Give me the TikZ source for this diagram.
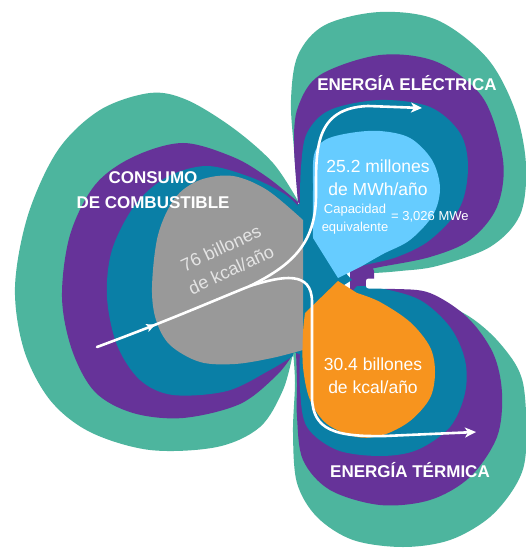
\documentclass[tikz,border=0pt]{standalone}
\usepackage{fontspec}
\setmainfont{Liberation Sans}
\usetikzlibrary{arrows.meta,decorations.markings}
\definecolor{cteal}{HTML}{4DB59E}
\definecolor{cpurple}{HTML}{663399}
\definecolor{cblue}{HTML}{0A7FA6}
\definecolor{cgrey}{HTML}{999999}
\definecolor{clight}{HTML}{66CCFF}
\definecolor{corange}{HTML}{F7941E}
\definecolor{cgtext}{HTML}{E4E4E4}
\tikzset{
  flow/.style={draw=white,line width=2.6pt,line cap=round},
  title/.style={text=white,font=\fontsize{17}{25}\selectfont\bfseries,align=center,inner sep=0pt},
  big/.style={text=white,font=\fontsize{17.5}{23}\selectfont,align=center,inner sep=0pt},
  small/.style={text=white,font=\fontsize{13}{18}\selectfont,align=center,inner sep=0pt},
  flowtip/.tip={Stealth[length=11pt,width=10pt,inset=3pt]}
}
\begin{document}
\begin{tikzpicture}[x=1pt,y=-1pt]
\useasboundingbox (0,0) rectangle (526,548);
\fill[white] (0,0) rectangle (526,548);
% ---------- teal layer
\fill[cteal] plot[smooth,tension=0.55] coordinates {(298,201) (273,163) (233,128) (187,100) (150,93) (100,110) (58,150) (28,215) (15,287) (24,350) (50,400) (90,432) (150,450) (217,447) (260,427) (283,390) (293,353)} -- (305,280) -- cycle;
\fill[cteal] plot[smooth,tension=0.55] coordinates {(298,200) (294,150) (291,100) (298,55) (325,25) (380,12) (437,20) (487,58) (515,110) (526,165) (520,215) (490,247) (437,266) (400,271) (372,273) (352,272)} -- cycle;
\fill[cteal] plot[smooth,tension=0.55] coordinates {(293,352) (295,383) (293,433) (297,483) (317,517) (353,540) (403,547) (450,540) (490,517) (517,483) (526,450) (523,383) (503,347) (470,317) (420,293) (395,290)} -- cycle;
% ---------- purple layer
\fill[cpurple] plot[smooth,tension=0.55] coordinates {(298,202) (267,177) (233,157) (183,143) (133,157) (95,185) (70,235) (62,297) (72,350) (95,392) (133,413) (183,418) (240,404) (277,375) (293,354)} -- (305,280) -- cycle;
\fill[cpurple] plot[smooth,tension=0.55] coordinates {(298,202) (294,145) (298,107) (320,75) (380,55) (437,62) (483,98) (503,160) (497,207) (470,240) (430,257) (380,267) (355,272)} -- cycle;
\fill[cpurple] plot[smooth,tension=0.55] coordinates {(296,352) (297,383) (297,417) (303,460) (330,490) (380,505) (430,500) (470,477) (497,437) (502,393) (493,353) (467,317) (430,293) (395,289) (365,290)} -- cycle;
\fill[cpurple,rounded corners=4pt] (350,267) rectangle (374,293);
% ---------- blue layer
\fill[cblue] plot[smooth,tension=0.55] coordinates {(298,206) (283,193) (250,177) (207,166) (167,177) (135,205) (112,250) (107,297) (117,345) (140,380) (173,395) (227,391) (270,370) (293,356)} -- (305,280) -- cycle;
\fill[cblue] plot[smooth,tension=0.55] coordinates {(300,205) (301,167) (307,133) (330,110) (380,100) (430,107) (460,133) (468,167) (460,207) (430,240) (397,257) (365,265) (348,270)} -- cycle;
\fill[cblue] plot[smooth,tension=0.55] coordinates {(300,350) (300,390) (307,427) (337,450) (380,456) (417,450) (450,427) (465,393) (465,360) (450,327) (420,300) (380,288) (357,286)} -- cycle;
\fill[cblue] (298,204) -- (314,200) -- (314,238) -- (352,280) -- (320,300) -- (305,318) -- (304,356) -- (294,352) -- cycle;
% ---------- inner shapes
\fill[cgrey] plot[smooth,tension=0.55] coordinates {(303,220) (267,190) (233,176) (200,180) (175,198) (158,235) (152,287) (156,320) (170,345) (200,362) (235,364) (272,358) (303,350)} -- cycle;
\fill[clight] (338,278) -- plot[smooth,tension=0.55] coordinates {(313,238) (313,190) (314,155) (325,140) (350,133) (380,131) (410,138) (432,160) (440,188) (433,215) (410,240) (383,254) (362,266)} -- cycle;
\fill[corange] (338,281) -- plot[smooth,tension=0.55] coordinates {(357,293) (380,302) (410,322) (430,347) (435,372) (430,398) (410,421) (383,435) (357,437) (327,424) (310,400) (303,367) (303,333) (305,313)} -- cycle;
% notch
\fill[white,rounded corners=2.5pt] (366,278.5) rectangle (386,288.5);
% ---------- flows
\coordinate (in) at (97,347);
\coordinate (split) at (250,286);
\coordinate (outE) at (422,108);
\coordinate (outT) at (476,432);
\draw[flow,postaction=decorate,decoration={markings,mark=at position 0.38 with {\arrow{Stealth[length=9pt,width=8pt,inset=2pt]}}}]
  (in) .. controls (170,320) and (215,300) .. (split);
\draw[flow,-flowtip] (split) .. controls (290,266) and (316,245) .. (316,195)
  .. controls (316,150) and (314,108) .. (368,106) -- (outE);
\draw[flow,-flowtip] (split) .. controls (282,276) and (312,270) .. (312,302)
  -- (312,398) .. controls (313,430) and (335,437) .. (385,436) -- (outT);
% ---------- texts
\node[title] (tcons) at (153,190.5) {CONSUMO\\DE COMBUSTIBLE};
\node[title] (telec) at (407,83) {ENERGÍA ELÉCTRICA};
\node[title] (tterm) at (410,470) {ENERGÍA TÉRMICA};
\node[big,text=cgtext,rotate=25,font=\fontsize{18}{24}\selectfont] (tfuel) at (226,259) {76 billones\\de kcal/año};
\node[big] (tmwh) at (378,177.5) {25.2 millones\\de MWh/año};
\node[small] (tcap) at (355,219) {Capacidad\\equivalente};
\node[small,anchor=west] (tmwe) at (391,217) {= 3,026 MWe};
\node[big] (theat) at (373,375.5) {30.4 billones\\de kcal/año};
\end{tikzpicture}
\end{document}
